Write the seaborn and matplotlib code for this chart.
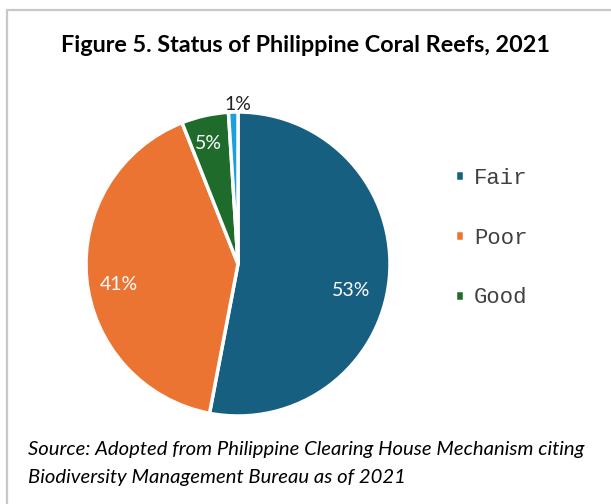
import numpy as np
import matplotlib
matplotlib.use("Agg")
import matplotlib.pyplot as plt
import seaborn as sns
from matplotlib.transforms import offset_copy

categories = ["Fair", "Poor", "Good", "Excellent"]
values = [53, 41, 5, 1]
legend_labels = ["Fair", "Poor", "Good"]
colors = ["#175F80", "#EC7433", "#1E6B2B", "#1BA0DD"]
label_colors = ["white", "white", "white", "#222222"]
label_dist = [0.78, 0.80, 0.82, 1.07]
label_offsets_px = [(-5, -15), (2, -9), (-2, -1), (5, -3)]

sns.set_theme(style="white")
plt.rcParams["font.family"] = ["Lato", "DejaVu Sans"]

fig = plt.figure(figsize=(6.11, 5.04), dpi=100)
fig.patch.set_facecolor("white")

# light gray frame lines (top and left)
fig.add_artist(plt.Line2D([6.5/611, 6.5/611], [0, 1 - 10/504], color="#c8c8c8", lw=1.6))
fig.add_artist(plt.Line2D([6.5/611, 1], [1 - 10/504, 1 - 10/504], color="#c8c8c8", lw=1.6))

ax = fig.add_axes([86/611, (504-416)/504, 304/611, 304/504])
wedges, _ = ax.pie(values, colors=colors, startangle=90, counterclock=False,
                   wedgeprops=dict(edgecolor="white", linewidth=2.5))
ax.set_xlim(-1, 1)
ax.set_ylim(-1, 1)
ax.set_aspect("equal")

for w, v, c, d, (ox, oy) in zip(wedges, values, label_colors, label_dist, label_offsets_px):
    ang = np.deg2rad((w.theta1 + w.theta2) / 2)
    tr = offset_copy(ax.transData, fig=fig, x=ox, y=oy, units="dots")
    ax.text(d * np.cos(ang), d * np.sin(ang), f"{v}%", ha="center", va="center",
            color=c, fontsize=14, clip_on=False, transform=tr)

fig.text(0.5, 1 - 45/504, "Figure 5. Status of Philippine Coral Reefs, 2021",
         ha="center", va="center", fontsize=16.8, fontweight="bold", color="black")

handles = wedges[:3]
leg = fig.legend(handles, legend_labels, loc="center left",
                 bbox_to_anchor=(435/611, 1 - 238/504), frameon=False,
                 prop={"family": "Liberation Mono", "size": 16},
                 handlelength=0.4, handleheight=0.4, handletextpad=0.45,
                 labelspacing=1.75, labelcolor="#404040")

fig.text(28/611, 1 - 450/504,
         "Source: Adopted from Philippine Clearing House Mechanism citing",
         ha="left", va="center", fontsize=14.6, style="italic", color="black")
fig.text(28/611, 1 - 478/504,
         "Biodiversity Management Bureau as of 2021",
         ha="left", va="center", fontsize=14.6, style="italic", color="black")

fig.savefig("out.png", dpi=100, facecolor="white")
